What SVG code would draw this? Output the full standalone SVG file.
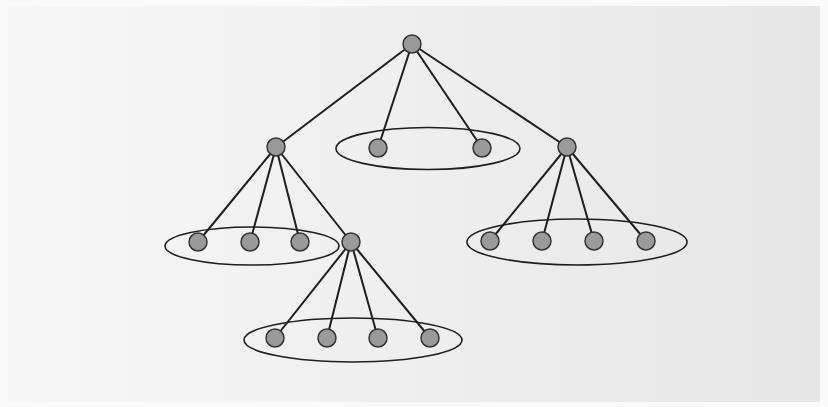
<svg xmlns="http://www.w3.org/2000/svg" width="828" height="407" viewBox="0 0 828 407">
<defs>
<linearGradient id="bg" x1="0" y1="0" x2="1" y2="0">
<stop offset="0" stop-color="#f7f7f7"/>
<stop offset="1" stop-color="#e6e6e6"/>
</linearGradient>
<style>
.edge{stroke:#1e1e1e;stroke-width:2;fill:none}
.grp{stroke:#1e1e1e;stroke-width:1.6;fill:none}
.node{fill:#9a9a9a;stroke:#333;stroke-width:1.5}
</style>
</defs>
<rect x="0" y="0" width="828" height="407" fill="#fafafa"/>
<rect x="8" y="6" width="812" height="396" fill="url(#bg)"/>
<g id="groups">
<ellipse class="grp" cx="428" cy="148.5" rx="92" ry="21"/>
<ellipse class="grp" cx="252" cy="246" rx="87" ry="19"/>
<ellipse class="grp" cx="577" cy="242" rx="110" ry="23"/>
<ellipse class="grp" cx="353" cy="340" rx="109" ry="22"/>
</g>
<g id="connectors">
<line class="edge" x1="412" y1="44" x2="276" y2="147"/>
<line class="edge" x1="412" y1="44" x2="378" y2="148"/>
<line class="edge" x1="412" y1="44" x2="482" y2="148"/>
<line class="edge" x1="412" y1="44" x2="567" y2="147"/>
<line class="edge" x1="276" y1="147" x2="198" y2="242"/>
<line class="edge" x1="276" y1="147" x2="250" y2="242"/>
<line class="edge" x1="276" y1="147" x2="300" y2="242"/>
<line class="edge" x1="276" y1="147" x2="351" y2="242"/>
<line class="edge" x1="351" y1="242" x2="275" y2="338"/>
<line class="edge" x1="351" y1="242" x2="327" y2="338"/>
<line class="edge" x1="351" y1="242" x2="378" y2="338"/>
<line class="edge" x1="351" y1="242" x2="430" y2="338"/>
<line class="edge" x1="567" y1="147" x2="490" y2="241"/>
<line class="edge" x1="567" y1="147" x2="542" y2="241"/>
<line class="edge" x1="567" y1="147" x2="594" y2="241"/>
<line class="edge" x1="567" y1="147" x2="646" y2="241"/>
</g>
<g id="n-root"><circle class="node" cx="412" cy="44" r="9"/></g>
<g id="n-l"><circle class="node" cx="276" cy="147" r="9"/></g>
<g id="n-m1"><circle class="node" cx="378" cy="148" r="9"/></g>
<g id="n-m2"><circle class="node" cx="482" cy="148" r="9"/></g>
<g id="n-r"><circle class="node" cx="567" cy="147" r="9"/></g>
<g id="n-l1"><circle class="node" cx="198" cy="242" r="9"/></g>
<g id="n-l2"><circle class="node" cx="250" cy="242" r="9"/></g>
<g id="n-l3"><circle class="node" cx="300" cy="242" r="9"/></g>
<g id="n-l4"><circle class="node" cx="351" cy="242" r="9"/></g>
<g id="n-b1"><circle class="node" cx="275" cy="338" r="9"/></g>
<g id="n-b2"><circle class="node" cx="327" cy="338" r="9"/></g>
<g id="n-b3"><circle class="node" cx="378" cy="338" r="9"/></g>
<g id="n-b4"><circle class="node" cx="430" cy="338" r="9"/></g>
<g id="n-r1"><circle class="node" cx="490" cy="241" r="9"/></g>
<g id="n-r2"><circle class="node" cx="542" cy="241" r="9"/></g>
<g id="n-r3"><circle class="node" cx="594" cy="241" r="9"/></g>
<g id="n-r4"><circle class="node" cx="646" cy="241" r="9"/></g>
</svg>
